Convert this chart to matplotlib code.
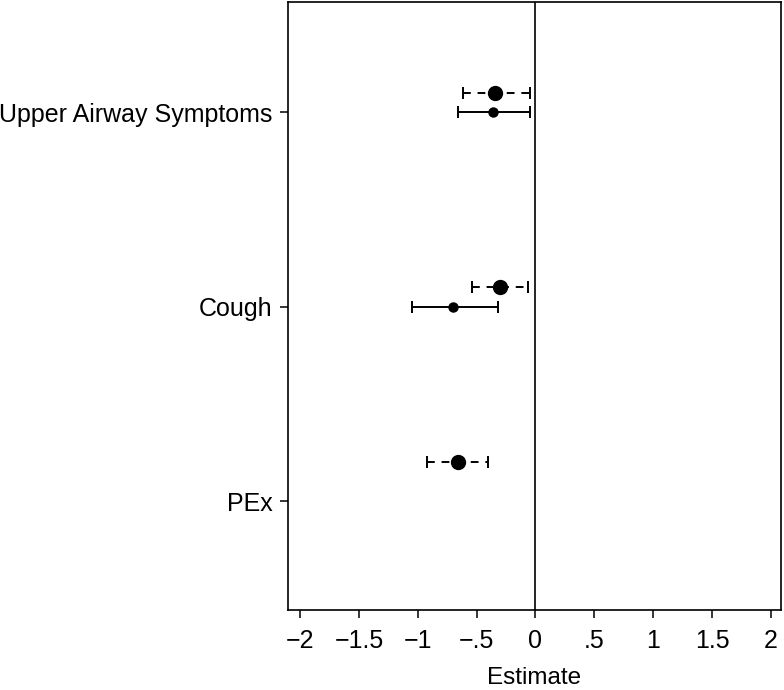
import matplotlib.pyplot as plt
import numpy as np

plt.rcParams['font.family'] = ['Liberation Sans', 'DejaVu Sans']

# data ------------------------------------------
categories = ["Upper Airway Symptoms", "Cough", "PEx"]
cat_pos = [3, 2, 1]

# dashed series (large dot)
dash_y = [3.10, 2.10, 1.20]
dash_est = [-0.34, -0.30, -0.66]
dash_lo = [-0.62, -0.54, -0.92]
dash_hi = [-0.05, -0.06, -0.40]

# solid series (small dot)
solid_y = [3.0, 2.0]
solid_est = [-0.36, -0.70]
solid_lo = [-0.66, -1.05]
solid_hi = [-0.05, -0.32]

xticks = [-2, -1.5, -1, -0.5, 0, 0.5, 1, 1.5, 2]
xticklabels = ["\u22122", "\u22121.5", "\u22121", "\u2212.5", "0", ".5", "1", "1.5", "2"]

# plot ------------------------------------------
fig = plt.figure(figsize=(7.84, 6.9), dpi=100)
ax = fig.add_axes([0.367, 0.116, 0.629, 0.881])

ax.axvline(0, color="black", lw=1.2, zorder=1)

d_est = np.array(dash_est)
eb = ax.errorbar(d_est, dash_y,
                 xerr=[d_est - np.array(dash_lo), np.array(dash_hi) - d_est],
                 fmt="o", color="black", ms=10, capsize=4, elinewidth=1.4,
                 capthick=1.4, zorder=3)
eb[-1][0].set_linestyle((0, (4, 3.5)))

s_est = np.array(solid_est)
ax.errorbar(s_est, solid_y,
            xerr=[s_est - np.array(solid_lo), np.array(solid_hi) - s_est],
            fmt="o", color="black", ms=6.5, capsize=4, elinewidth=1.4,
            capthick=1.4, zorder=3)

ax.set_xlim(-2.105, 2.085)
ax.set_ylim(0.44, 3.566)
ax.set_xticks(xticks)
ax.set_xticklabels(xticklabels)
ax.set_yticks(cat_pos)
ax.set_yticklabels(categories)
ax.tick_params(axis="both", labelsize=18, length=6, width=1.1, direction="out")
ax.tick_params(axis="x", pad=8)
ax.tick_params(axis="y", pad=5)
ax.set_xlabel("Estimate", fontsize=17.5, labelpad=10)
for s in ax.spines.values():
    s.set_linewidth(1.2)

fig.savefig("out.png", dpi=100)
